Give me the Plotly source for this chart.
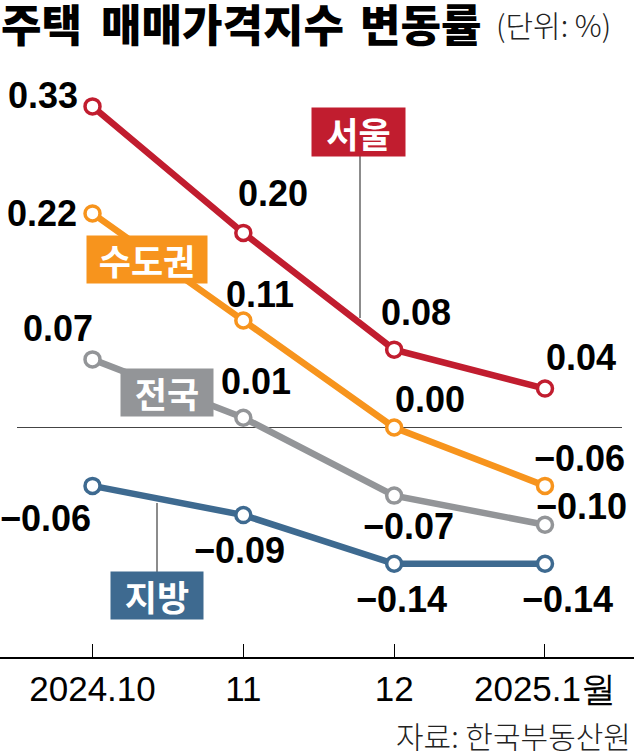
import plotly.graph_objects as go

# ---------------- data ----------------
months = ["2024.10", "11", "12", "2025.1월"]
seoul = [0.33, 0.20, 0.08, 0.04]
capital = [0.22, 0.11, 0.00, -0.06]
nation = [0.07, 0.01, -0.07, -0.10]
local = [-0.06, -0.09, -0.14, -0.14]
series_names = ["서울", "수도권", "전국", "지방"]

title_words = ["주택", "매매가격지수", "변동률"]
unit_text = "(단위: %)"
source_text = "자료: 한국부동산원"

# ---------------- styles / layout ----------------
W, H = 634, 754
colors = {"서울": "#c11d2f", "수도권": "#f7941d", "전국": "#939598", "지방": "#3e6a90"}
NUM_FONT = "Liberation Sans, Arial, sans-serif"
KR_FONT = "Noto Sans CJK KR, Noto Sans CJK SC, sans-serif"

PLOT_TOP, PLOT_BOTTOM = 60, 657
X0_PX, DX_PX = 92.5, 150.83
ZERO_PX, PX_PER_UNIT = 427.5, 973.0
x_range = [-X0_PX / DX_PX, (W - X0_PX) / DX_PX]
y_range = [-(PLOT_BOTTOM - ZERO_PX) / PX_PER_UNIT, (ZERO_PX - PLOT_TOP) / PX_PER_UNIT]


def px2x(p):
    return x_range[0] + p / W * (x_range[1] - x_range[0])


def px2y(p):
    return (ZERO_PX - p) / PX_PER_UNIT


def paper_y(p):
    return (PLOT_BOTTOM - p) / (PLOT_BOTTOM - PLOT_TOP)


xs = list(range(len(months)))
series = {"서울": seoul, "수도권": capital, "전국": nation, "지방": local}

# label offsets (pixels) relative to each marker
label_offsets = {
    "서울": [(-50, -11), (30, -39), (22, -37), (36, -31)],
    "수도권": [(-51, 0), (17, -26), (36, -28), (35, -27)],
    "전국": [(-35, -31), (13, -36), (14, 31), (37, -18)],
    "지방": [(-47, 33), (-4, 35), (7, 36), (23, 36)],
}

# name boxes: (center x px, center y px, width, height)
name_boxes = {
    "서울": (358.5, 132, 93, 48),
    "수도권": (147, 259.5, 120, 47),
    "전국": (167, 392.5, 92, 47),
    "지방": (157, 595.5, 92, 47),
}
# leader lines: (x px, y0 px, y1 px)
leaders = [(360, 156, 318), (157, 572, 503)]

fig = go.Figure()

for name in ["전국", "지방", "수도권", "서울"]:
    fig.add_trace(
        go.Scatter(
            x=xs,
            y=series[name],
            mode="lines+markers",
            line=dict(color=colors[name], width=6.5),
            marker=dict(symbol="circle", size=15, color="white",
                        line=dict(color=colors[name], width=3.5)),
            hoverinfo="skip",
            showlegend=False,
        )
    )

annotations = []
for name, vals in series.items():
    for i, v in enumerate(vals):
        dx, dy = label_offsets[name][i]
        txt = f"{v:.2f}".replace("-", "\u2212")
        annotations.append(dict(
            x=xs[i], y=v, xref="x", yref="y", text=txt, showarrow=False,
            xanchor="center", yanchor="middle", xshift=dx, yshift=-dy,
            font=dict(family=NUM_FONT, size=36, color="black", weight="bold"),
        ))

for name, (cx, cy, bw, bh) in name_boxes.items():
    annotations.append(dict(
        x=px2x(cx), y=px2y(cy), xref="x", yref="y", text=name, showarrow=False,
        xanchor="center", yanchor="middle", width=bw, height=bh,
        bgcolor=colors[name], borderpad=0, align="center", valign="middle",
        font=dict(family=KR_FONT, size=35, color="white", weight="bold"),
    ))

# title
for word, left in zip(title_words, [-1, 99, 358]):
    annotations.append(dict(
        x=left / W, y=paper_y(23), xref="paper", yref="paper", text=word,
        showarrow=False, xanchor="left", yanchor="middle",
        font=dict(family=KR_FONT, size=44, color="black", weight=900),
    ))
annotations.append(dict(
    x=494 / W, y=paper_y(24), xref="paper", yref="paper", text=unit_text,
    showarrow=False, xanchor="left", yanchor="middle",
    font=dict(family=KR_FONT, size=30, color="#222222", weight=300),
))
annotations.append(dict(
    x=633 / W, y=paper_y(735), xref="paper", yref="paper", text=source_text,
    showarrow=False, xanchor="right", yanchor="middle",
    font=dict(family=KR_FONT, size=30, color="#222222", weight=300),
))

shapes = [dict(type="line", xref="paper", yref="y", x0=17 / W, x1=622 / W,
               y0=0, y1=0, line=dict(color="#444444", width=1.2), layer="below")]
for lx, y0, y1 in leaders:
    shapes.append(dict(type="line", xref="x", yref="y", x0=px2x(lx), x1=px2x(lx),
                       y0=px2y(y0), y1=px2y(y1),
                       line=dict(color="#666666", width=1.5), layer="below"))

fig.update_layout(
    width=W, height=H,
    margin=dict(l=0, r=0, t=PLOT_TOP, b=H - PLOT_BOTTOM, pad=0),
    paper_bgcolor="white", plot_bgcolor="white",
    annotations=annotations, shapes=shapes,
    xaxis=dict(range=x_range, tickvals=xs, ticktext=months, showgrid=False,
               zeroline=False, showline=True, linecolor="black", linewidth=1.5,
               ticks="inside", ticklen=13, tickwidth=1.2, tickcolor="black",
               tickfont=dict(family=NUM_FONT, size=35, color="black"),
               fixedrange=True),
    yaxis=dict(range=y_range, visible=False, fixedrange=True),
)

fig.write_html("out.html", config={"displayModeBar": False},
               post_script="document.body.style.margin='0';document.body.style.overflow='hidden';")
